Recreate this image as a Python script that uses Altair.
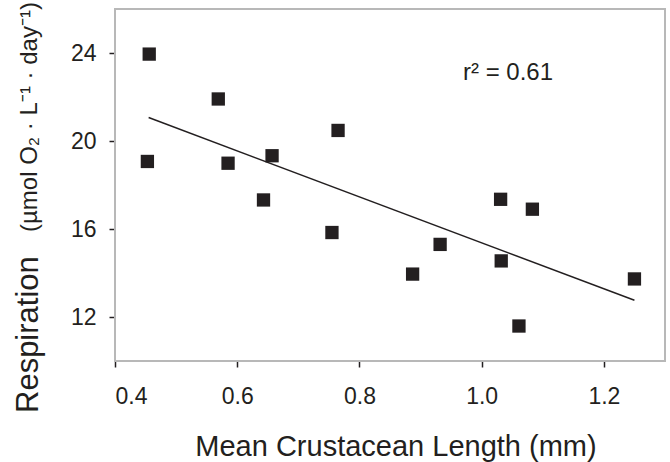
import altair as alt
import pandas as pd

# data
length_mm = [0.456, 0.453, 0.569, 0.585, 0.657, 0.643, 0.765, 0.755,
             0.887, 0.932, 1.031, 1.032, 1.083, 1.061, 1.250]
respiration = [23.95, 19.07, 21.91, 18.99, 19.33, 17.32, 20.48, 15.84,
               13.95, 15.30, 17.35, 14.55, 16.90, 11.59, 13.73]
x_ticks = [0.4, 0.6, 0.8, 1.0, 1.2]
y_ticks = [12, 16, 20, 24]
x_title = "Mean Crustacean Length (mm)"
y_title_main = "Respiration"
y_title_units = "(µmol O₂ · L⁻¹ · day⁻¹)"
r2_label = "r² = 0.61"

FONT = "Liberation Sans, Arial, Noto Sans"
INK = "#231f20"
FRAME = "#b8b8b8"

df = pd.DataFrame({"x": length_mm, "y": respiration})

xscale = alt.Scale(domain=[0.4, 1.3], nice=False, zero=False)
yscale = alt.Scale(domain=[10, 26], nice=False, zero=False)

xaxis = alt.Axis(values=x_ticks, format=".1f", title=None, domain=False, grid=False,
                 tickSize=6, tickColor=INK, tickWidth=1.5,
                 labelFont=FONT, labelFontSize=23, labelColor=INK,
                 labelBaseline="alphabetic", labelPadding=36)
yaxis = alt.Axis(values=y_ticks, format="d", title=None, domain=False, grid=False,
                 tickSize=6, tickColor=INK, tickWidth=1.5,
                 labelFont=FONT, labelFontSize=23, labelColor=INK,
                 labelPadding=13)

base = alt.Chart(df)

one = pd.DataFrame({"t": [0]})

frame = alt.Chart(one).mark_rect(fill=None, stroke=FRAME, strokeWidth=2).encode(
    x=alt.value(0), x2=alt.value(550), y=alt.value(0), y2=alt.value(352))

points = base.mark_square(size=177, color=INK, opacity=1).encode(
    x=alt.X("x:Q", scale=xscale, axis=xaxis),
    y=alt.Y("y:Q", scale=yscale, axis=yaxis),
)

fit = base.transform_regression("x", "y", extent=[0.455, 1.25]).mark_line(
    color=INK, strokeWidth=1.5
).encode(
    x=alt.X("x:Q", scale=xscale),
    y=alt.Y("y:Q", scale=yscale),
)

r2 = alt.Chart(one).mark_text(font=FONT, fontSize=24, color=INK, align="left",
                              baseline="alphabetic").encode(
    x=alt.value(348), y=alt.value(71), text=alt.value(r2_label))

xt = alt.Chart(one).mark_text(font=FONT, fontSize=29, color=INK, align="center",
                              baseline="alphabetic").encode(
    x=alt.value(281), y=alt.value(447), text=alt.value(x_title))

yt1 = alt.Chart(one).mark_text(font=FONT, fontSize=31, color=INK, align="left",
                               baseline="alphabetic", angle=270).encode(
    x=alt.value(-77), y=alt.value(404), text=alt.value(y_title_main))

yt2 = alt.Chart(one).mark_text(font=FONT, fontSize=24, color=INK, align="left",
                               baseline="alphabetic", angle=270).encode(
    x=alt.value(-78), y=alt.value(223), text=alt.value(y_title_units))

chart = alt.layer(frame, fit, points, r2, xt, yt1, yt2).properties(
    width=550, height=352,
    autosize=alt.AutoSizeParams(type="none"),
    padding={"left": 115, "top": 9, "right": 5, "bottom": 101},
).configure_view(stroke=None).configure(background="white")

chart.save("out.html", embed_options={"renderer": "svg", "actions": False})
